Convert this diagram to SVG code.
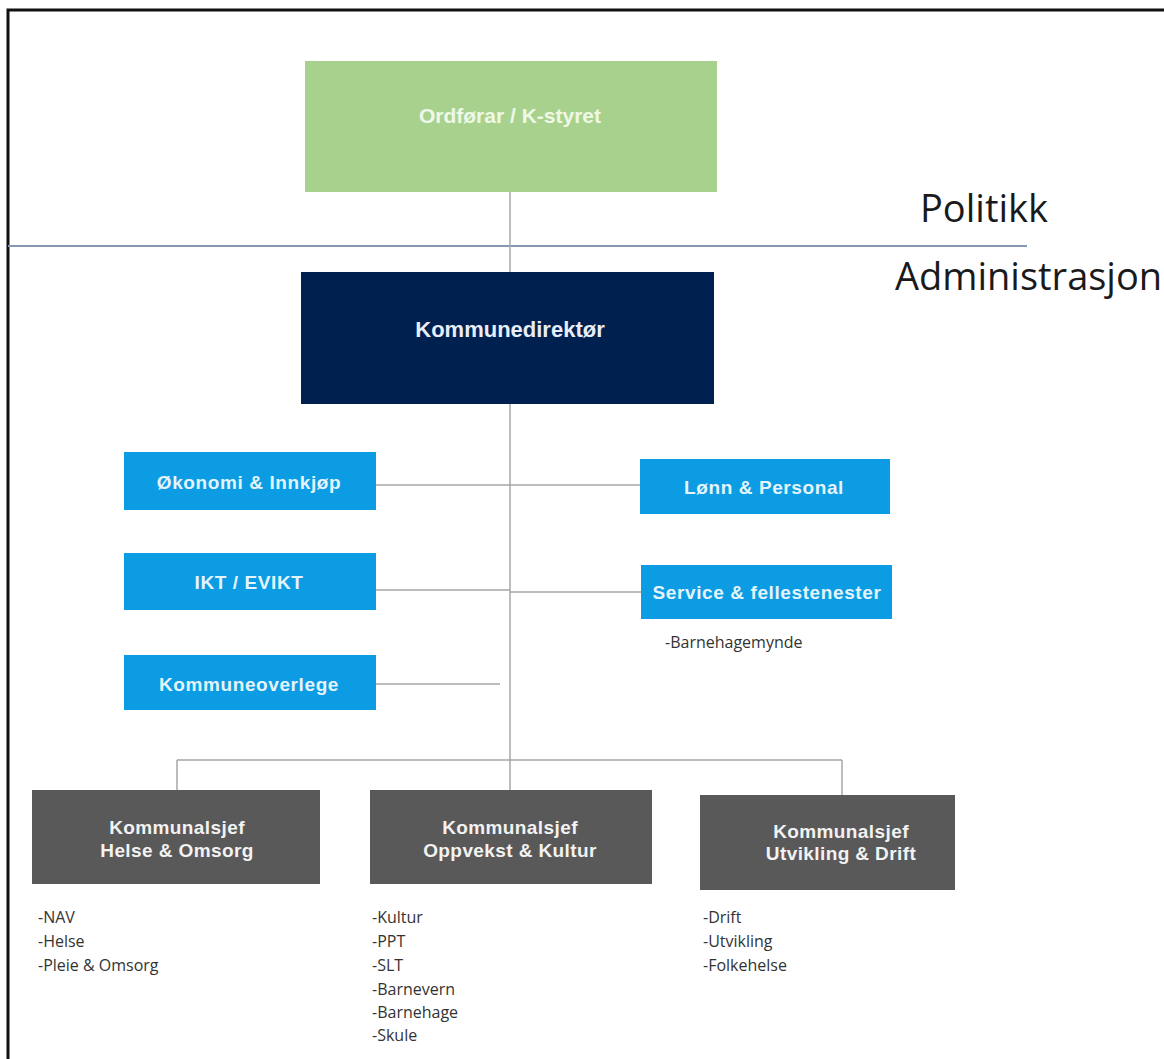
<svg xmlns="http://www.w3.org/2000/svg" width="1164" height="1059" viewBox="0 0 1164 1059">
<style>
.bx{font-family:"Liberation Sans",Arial,sans-serif;font-weight:bold;text-anchor:middle}
.blue rect{fill:#0b9ce4}
.blue text{fill:#e4f4fc;font-size:19px;letter-spacing:0.6px}
.gray rect{fill:#595959}
.gray text{fill:#f2f2f2;font-size:19px;letter-spacing:0.4px}
.lst text,text.lst{font-family:"Open Sans","Noto Sans",sans-serif;font-size:16px;fill:#333;font-weight:normal;text-anchor:start;letter-spacing:0}
.big{font-family:"Open Sans","Noto Sans",sans-serif;font-size:38px;fill:#1a1a1a}
.con line{stroke:#a6a6a6;stroke-width:1.5}
</style>
<rect x="0" y="0" width="1164" height="1059" fill="#fff"/>
<path d="M8,1059 V10 H1164" fill="none" stroke="#111" stroke-width="3"/>
<line x1="8" y1="246" x2="1027" y2="246" stroke="#8497b0" stroke-width="2"/>
<text class="big" x="920" y="222" font-size="36">Politikk</text>
<text class="big" x="895" y="290">Administrasjon</text>
<g id="connectors" class="con">
<line x1="510" y1="192" x2="510" y2="272"/>
<line x1="510" y1="404" x2="510" y2="760"/>
<line x1="376" y1="485" x2="640" y2="485"/>
<line x1="376" y1="590" x2="510" y2="590"/>
<line x1="510" y1="592" x2="641" y2="592"/>
<line x1="376" y1="684" x2="500" y2="684"/>
<line x1="177" y1="760" x2="842" y2="760"/>
<line x1="177" y1="760" x2="177" y2="790"/>
<line x1="510" y1="760" x2="510" y2="790"/>
<line x1="842" y1="760" x2="842" y2="795"/>
</g>
<g id="ordforar" class="bx">
<rect x="305" y="61" width="412" height="131" fill="#a9d18e"/>
<text x="510" y="123" fill="#eef8e6" font-size="21">Ordførar / K-styret</text>
</g>
<g id="kommunedirektor" class="bx">
<rect x="301" y="272" width="413" height="132" fill="#002050"/>
<text x="510" y="337" fill="#e8eef8" font-size="22">Kommunedirektør</text>
</g>
<g id="okonomi" class="bx blue">
<rect x="124" y="452" width="252" height="58"/>
<text x="249" y="489">Økonomi &amp; Innkjøp</text>
</g>
<g id="ikt" class="bx blue">
<rect x="124" y="553" width="252" height="57"/>
<text x="249" y="589">IKT / EVIKT</text>
</g>
<g id="kommuneoverlege" class="bx blue">
<rect x="124" y="655" width="252" height="55"/>
<text x="249" y="691">Kommuneoverlege</text>
</g>
<g id="lonn" class="bx blue">
<rect x="640" y="459" width="250" height="55"/>
<text x="764" y="494">Lønn &amp; Personal</text>
</g>
<g id="service" class="bx blue">
<rect x="641" y="565" width="251" height="54"/>
<text x="767" y="599">Service &amp; fellestenester</text>
<text class="lst" x="665" y="648">-Barnehagemynde</text>
</g>
<g id="helse" class="bx gray">
<rect x="32" y="790" width="288" height="94"/>
<text x="177" y="834">Kommunalsjef</text>
<text x="177" y="857">Helse &amp; Omsorg</text>
<g class="lst">
<text x="38" y="923">-NAV</text>
<text x="38" y="947">-Helse</text>
<text x="38" y="971">-Pleie &amp; Omsorg</text>
</g>
</g>
<g id="oppvekst" class="bx gray">
<rect x="370" y="790" width="282" height="94"/>
<text x="510" y="834">Kommunalsjef</text>
<text x="510" y="857">Oppvekst &amp; Kultur</text>
<g class="lst">
<text x="372" y="923">-Kultur</text>
<text x="372" y="947">-PPT</text>
<text x="372" y="971">-SLT</text>
<text x="372" y="995">-Barnevern</text>
<text x="372" y="1018">-Barnehage</text>
<text x="372" y="1041">-Skule</text>
</g>
</g>
<g id="utvikling" class="bx gray">
<rect x="700" y="795" width="255" height="95"/>
<text x="841" y="838">Kommunalsjef</text>
<text x="841" y="860">Utvikling &amp; Drift</text>
<g class="lst">
<text x="703" y="923">-Drift</text>
<text x="703" y="947">-Utvikling</text>
<text x="703" y="971">-Folkehelse</text>
</g>
</g>
</svg>
